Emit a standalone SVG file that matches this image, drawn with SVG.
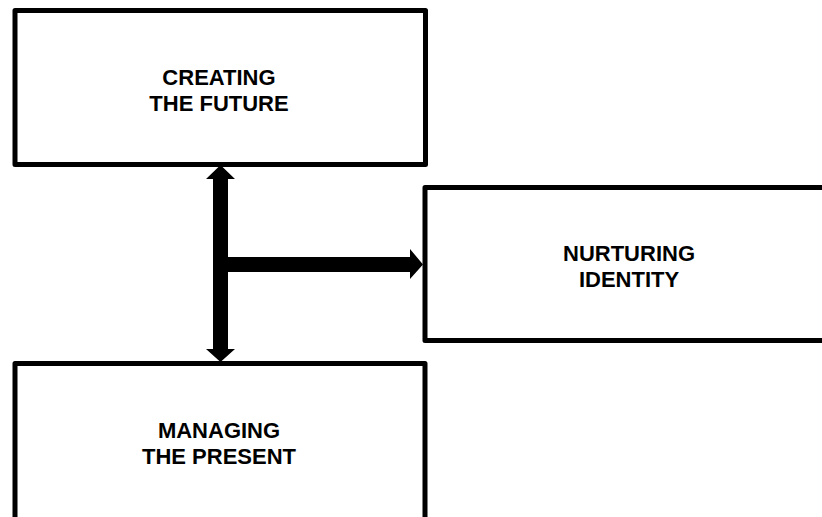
<svg xmlns="http://www.w3.org/2000/svg" width="822" height="517" viewBox="0 0 822 517">
<style>
.box{fill:#fff;stroke:#000;stroke-width:5;stroke-linejoin:round}
.lbl{font-family:"Liberation Sans",Arial,sans-serif;font-weight:bold;font-size:22px;fill:#000;text-anchor:middle}
.arr{fill:#000;stroke:none}
</style>
<rect width="822" height="517" fill="#fff"/>
<g id="node-future">
<rect class="box" x="15" y="10.5" width="410.5" height="154"/>
<text class="lbl" x="219" y="85">CREATING</text>
<text class="lbl" x="219" y="111">THE FUTURE</text>
</g>
<g id="node-identity">
<rect class="box" x="425" y="187.5" width="410" height="153"/>
<text class="lbl" x="629" y="261">NURTURING</text>
<text class="lbl" x="629" y="287">IDENTITY</text>
</g>
<g id="node-present">
<rect class="box" x="15" y="363.5" width="410" height="160"/>
<text class="lbl" x="219" y="438">MANAGING</text>
<text class="lbl" x="219" y="464">THE PRESENT</text>
</g>
<g id="connectors">
<polygon class="arr" points="220.5,165 235,179 228,179 228,349 235,349 220.5,362 206,349 213,349 213,179 206,179"/>
<polygon class="arr" points="228,257 410,257 410,249 423,264.5 410,279 410,272 228,272"/>
</g>
</svg>
